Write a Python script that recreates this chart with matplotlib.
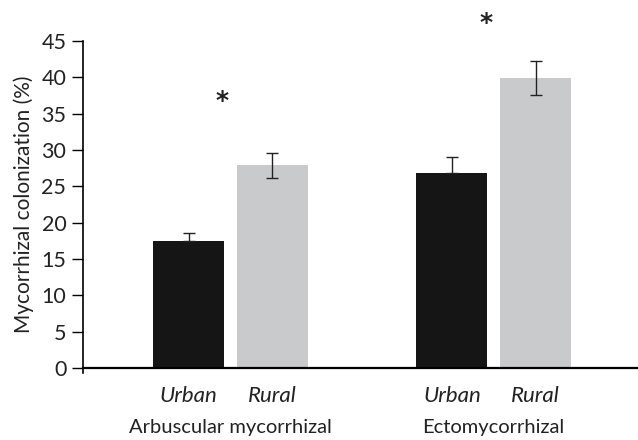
import matplotlib
matplotlib.use("Agg")
import matplotlib.pyplot as plt
from matplotlib import transforms

plt.rcParams["font.family"] = ["Lato", "DejaVu Sans"]

groups = ["Arbuscular mycorrhizal", "Ectomycorrhizal"]
sites = ["Urban", "Rural"]
urban_vals = [17.5, 26.8]
urban_err = [1.1, 2.2]
rural_vals = [27.9, 39.9]
rural_err = [1.7, 2.3]
star_y = [36.8, 47.5]

fig = plt.figure(figsize=(6.38, 4.4), dpi=100)
ax = fig.add_axes([0.130, 0.1636, 0.868, 0.7432])

width = 0.269
off = 0.159
x = [0, 1]
xu = [xi - off for xi in x]
xr = [xi + off for xi in x]
ax.bar(xu, urban_vals, width, color="#151515")
ax.bar(xr, rural_vals, width, color="#c9cacb")
# urban bars only show the upper whisker
ax.errorbar(xu, urban_vals, yerr=[[0, 0], urban_err], fmt="none", ecolor="#222222",
            elinewidth=1, capsize=4, capthick=1)
ax.errorbar(xr, rural_vals, yerr=rural_err, fmt="none", ecolor="#222222",
            elinewidth=1, capsize=4, capthick=1)

for xi, sy in zip(x, star_y):
    ax.text(xi - 0.03, sy, "*", ha="center", va="center", clip_on=False,
            fontsize=18, fontweight="bold", family="DejaVu Sans", color="#222222")

ax.set_xlim(-0.560, 1.543)
ax.set_ylim(0, 45)
ax.set_yticks(range(0, 46, 5))
ax.tick_params(axis="y", labelsize=15.5, length=8, width=1, direction="out", pad=4,
               labelcolor="#222222")
ax.set_xticks(xu + xr)
ax.set_xticklabels([sites[0]] * len(xu) + [sites[1]] * len(xr),
                   fontstyle="italic", fontsize=16, color="#222222")
ax.tick_params(axis="x", length=0, pad=13)
ax.spines["top"].set_visible(False)
ax.spines["right"].set_visible(False)
ax.spines["left"].set_linewidth(1.2)
ax.spines["left"].set_bounds(-0.7, 45)
ax.spines["bottom"].set_linewidth(1.6)
ax.set_ylabel("Mycorrhizal colonization (%)", fontsize=15, labelpad=5, color="#222222")

trans = transforms.blended_transform_factory(ax.transData, fig.transFigure)
for xi, g in zip(x, groups):
    ax.text(xi, 0.028, g, transform=trans, ha="center", va="center", fontsize=14.5,
            color="#222222")

fig.savefig("out.png", dpi=100)
